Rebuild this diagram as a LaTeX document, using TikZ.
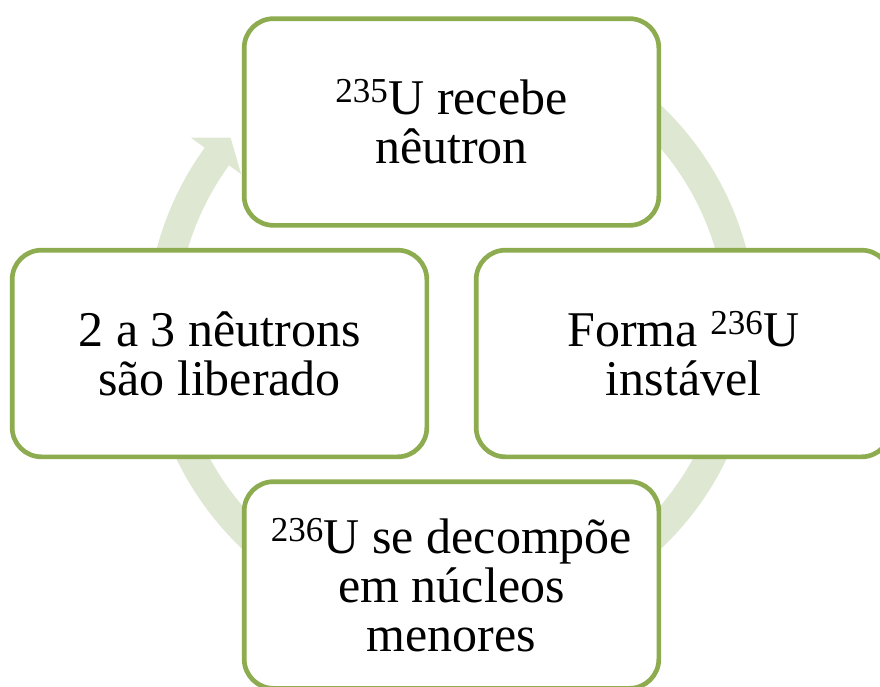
\documentclass[tikz,border=0pt]{standalone}
\usepackage{fontspec}
\setmainfont{Liberation Serif}
\definecolor{cyclegreen}{RGB}{141,172,79}
\definecolor{ringgreen}{RGB}{222,231,209}
\tikzset{
  stepbox/.style={draw=cyclegreen, line width=3.5pt, fill=white, rounded corners=22pt,
    minimum width=311pt, minimum height=155pt, align=center, inner sep=0pt,
    font=\fontsize{37.5}{36.75}\selectfont}
}
\begin{document}
\begin{tikzpicture}[x=0.75pt,y=-0.75pt]
\useasboundingbox (0,0) rectangle (880,686);
\begin{scope}[shift={(451.5,327)},yscale=-1]
    \fill[ringgreen] (80:305) arc[start angle=80,end angle=-216,radius=305]
        -- (-216:322) -- (-220.6:291) -- (-216:260) -- (-216:275)
        arc[start angle=-216,end angle=80,radius=275] -- cycle;
\end{scope}
\node[stepbox] (recebe) at (451.5,122) {\textsuperscript{235}U recebe\\nêutron};
\node[stepbox] (forma) at (683.5,353.5) {Forma \textsuperscript{236}U\\instável};
\node[stepbox] (decompoe) at (451.5,585) {\textsuperscript{236}U se decompõe\\em núcleos\\menores};
\node[stepbox] (libera) at (219.5,353.5) {2 a 3 nêutrons\\são liberado};
\end{tikzpicture}
\end{document}
